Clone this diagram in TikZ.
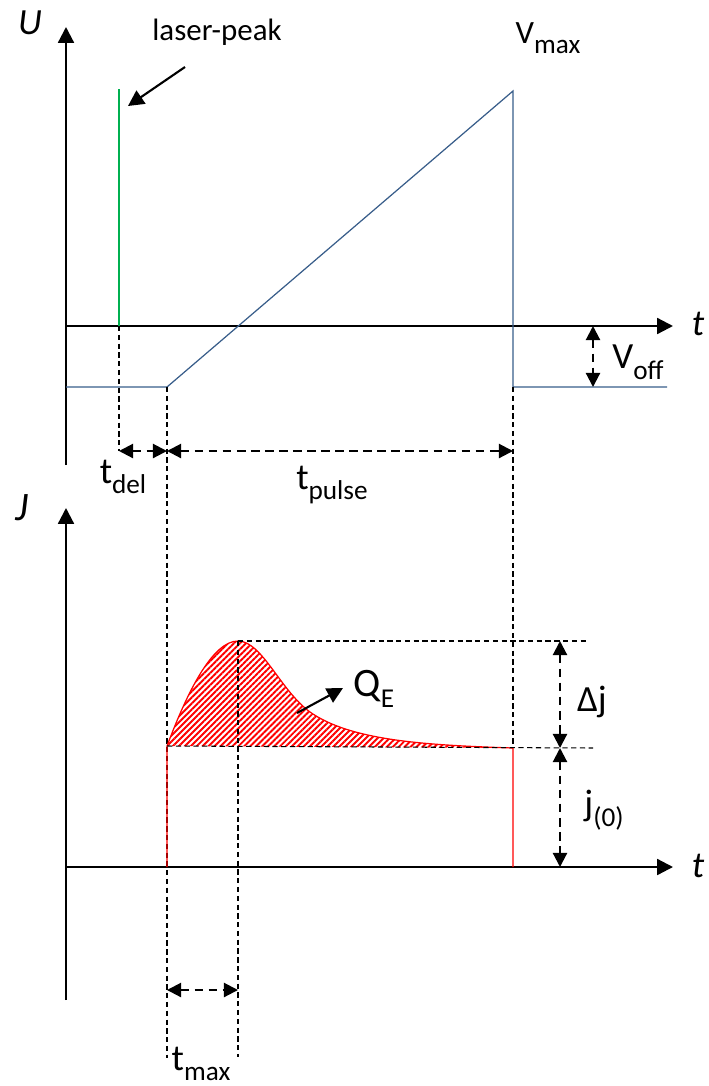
\documentclass[tikz,border=0pt]{standalone}
\usepackage{fontspec}
\setmainfont{Carlito}
\usetikzlibrary{arrows.meta,patterns.meta}
\definecolor{rampblue}{RGB}{56,93,138}
\definecolor{lasergreen}{RGB}{0,176,80}
\newcommand{\lowsub}[1]{\raisebox{-6pt}{\fontsize{15.5}{16}\selectfont #1}}

\begin{document}
\begin{tikzpicture}[x=0.02cm,y=-0.02cm,
  font=\fontsize{21}{22}\selectfont,
  axis/.style={line width=1.3pt,-{Triangle[length=9pt,width=9pt]}},
  axlbl/.style={font=\fontsize{21}{22}\selectfont\itshape,inner sep=0pt},
  lbl/.style={inner sep=0pt},
  guide/.style={line width=0.6pt,dash pattern=on 3pt off 2pt},
  dim/.style={line width=1.2pt,dash pattern=on 5pt off 3pt,
              {Triangle[length=8pt,width=8pt]}-{Triangle[length=8pt,width=8pt]}},
  pointer/.style={line width=1.2pt,-{Triangle[length=9pt,width=9pt]}},
  ramp/.style={rampblue,line width=0.7pt},
  resp/.style={red,line width=0.7pt}
]
\useasboundingbox (0,0) rectangle (708,1086);

% --- voltage plot
\coordinate (uo) at (66,465);
\coordinate (utop) at (66,27);
\coordinate (ux0) at (66,326);
\coordinate (uxend) at (673,326);
\draw[axis] (uo) -- (utop);
\draw[axis] (ux0) -- (uxend);
\node[axlbl] (ulbl) at (30,23) {U};
\node[axlbl] (utlbl) at (698,324) {t};

\coordinate (lasbot) at (119,326);
\coordinate (lastop) at (119,89);
\draw[lasergreen,line width=1.5pt] (lasbot) -- (lastop);
\node[lbl,font=\fontsize{17.6}{20}\selectfont] (laslbl) at (217,32) {laser-peak};
\coordinate (lasfrom) at (185,67);
\coordinate (lasto) at (128,106);
\draw[pointer] (lasfrom) -- (lasto);

\coordinate (v0) at (66,387);
\coordinate (vstart) at (167,387);
\coordinate (vpeak) at (513,91);
\coordinate (vdrop) at (513,387);
\coordinate (vend) at (667,387);
\draw[ramp] (v0) -- (vstart) -- (vpeak) -- (vdrop) -- (vend);
\node[lbl,font=\fontsize{18.5}{20}\selectfont] (vmax) at (548,38) {V\lowsub{max}};

\coordinate (offtop) at (593,326);
\coordinate (offbot) at (593,387);
\draw[dim] (offtop) -- (offbot);
\node[lbl] (voff) at (638,362) {V\lowsub{off}};

% guides
\coordinate (gdel) at (119,451);
\coordinate (gstart) at (167,1058);
\coordinate (gend) at (513,748);
\draw[guide] (lasbot) -- (gdel);
\draw[guide] (vstart) -- (gstart);
\draw[guide] (vdrop) -- (gend);

\coordinate (ddel) at (119,451);
\coordinate (dstart) at (167,451);
\coordinate (dend) at (513,451);
\draw[dim] (ddel) -- (dstart);
\draw[dim] (dstart) -- (dend);
\node[lbl] (tdel) at (123,477) {t\lowsub{del}};
\node[lbl] (tpulse) at (332,485) {t\lowsub{pulse}};

% --- current plot
\coordinate (jo) at (66,1000);
\coordinate (jtop) at (66,508);
\coordinate (jx0) at (66,867);
\coordinate (jxend) at (673,867);
\draw[axis] (jo) -- (jtop);
\draw[axis] (jx0) -- (jxend);
\node[axlbl,font=\fontsize{23}{24}\selectfont\itshape] (jlbl) at (22,508) {J};
\node[axlbl] (jtlbl) at (698,866) {t};

\coordinate (rbot1) at (167,867);
\coordinate (rbase1) at (167,746);
\coordinate (rpeak) at (238,641);
\coordinate (rbase2) at (513,748);
\coordinate (rbot2) at (513,867);
\fill[pattern={Lines[angle=45,distance=2.4pt,line width=1.1pt]},pattern color=red]
  (rbase1) .. controls (188,690) and (213,641) .. (rpeak)
  .. controls (262,641) and (280,690) .. (310,712)
  .. controls (350,740) and (420,745) .. (rbase2) -- cycle;
\draw[resp] (rbot1) -- (rbase1) .. controls (188,690) and (213,641) .. (rpeak)
  .. controls (262,641) and (280,690) .. (310,712)
  .. controls (350,740) and (420,745) .. (rbase2) -- (rbot2);

\coordinate (pkend) at (586,641);
\coordinate (baseend) at (593,748);
\coordinate (gmax) at (238,1057);
\draw[guide] (rpeak) -- (pkend);
\draw[guide] (rbase1) -- (baseend);
\draw[guide] (rpeak) -- (gmax);

\coordinate (djtop) at (560,641);
\coordinate (djmid) at (560,748);
\coordinate (djbot) at (560,867);
\draw[dim] (djtop) -- (djmid);
\draw[dim] (djmid) -- (djbot);
\node[lbl] (dj) at (592,702) {Δj};
\node[lbl] (j0) at (604,810) {j\lowsub{(0)}};

\coordinate (qfrom) at (297,713);
\coordinate (qto) at (343,688);
\draw[pointer] (qfrom) -- (qto);
\node[lbl,font=\fontsize{23}{24}\selectfont] (qe) at (374,689) {Q\lowsub{E}};

\coordinate (tm1) at (167,990);
\coordinate (tm2) at (238,990);
\draw[dim] (tm1) -- (tm2);
\node[lbl] (tmax) at (201,1064) {t\lowsub{max}};
\end{tikzpicture}
\end{document}
